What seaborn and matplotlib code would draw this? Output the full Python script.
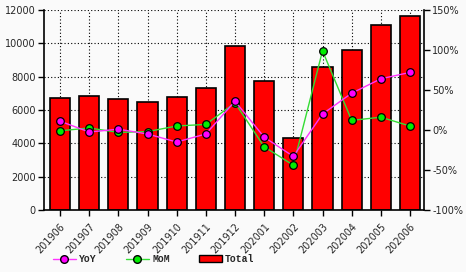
import numpy as np
import pandas as pd
import seaborn as sns
import matplotlib.pyplot as plt
from matplotlib.patches import Patch
from matplotlib.lines import Line2D

months = ['201906', '201907', '201908', '201909', '201910', '201911', '201912',
          '202001', '202002', '202003', '202004', '202005', '202006']
total = [6720, 6840, 6660, 6480, 6780, 7320, 9840, 7740, 4320, 8580, 9600, 11100, 11640]
yoy = [11, -2.5, 1, -5, -15, -5, 36, -9, -33, 20, 46, 64, 72]
mom = [-1, 2.5, -3, -2, 5, 7, 34, -21, -44, 99, 12, 16, 5]

df = pd.DataFrame({'month': months, 'total': total, 'yoy': yoy, 'mom': mom})
df['pos'] = range(len(df))

sns.set_style('white')
plt.rcParams['font.family'] = ['DejaVu Sans']

fig = plt.figure(figsize=(4.66, 2.72), dpi=100)
fig.patch.set_facecolor('#fafafa')
ax = fig.add_axes([44 / 466, 62 / 272, 380 / 466, 200 / 272])
ax.set_facecolor('#fafafa')

sns.barplot(data=df, x='pos', y='total', color='red', edgecolor='black',
            linewidth=1.2, width=0.69, saturation=1, ax=ax, zorder=2,
            native_scale=True)
ax.set_ylim(0, 12000)
ax.set_yticks(range(0, 12001, 2000))
ax.grid(True, color='black', linestyle=(0, (1, 2)), linewidth=0.8, zorder=0)
ax.set_axisbelow(True)
ax.set_xlabel('')
ax.set_ylabel('')
for s in ['left', 'bottom']:
    ax.spines[s].set_color('black')
    ax.spines[s].set_linewidth(1.2)
ax.spines['top'].set_visible(False)
ax.spines['right'].set_visible(False)

ax2 = ax.twinx()
sns.lineplot(data=df, x='pos', y='yoy', color='#ff33ff', linewidth=1, marker='o',
             markersize=5.5, markerfacecolor='#ff00ff', markeredgecolor='black',
             markeredgewidth=0.9, ax=ax2, zorder=4)
sns.lineplot(data=df, x='pos', y='mom', color='#33dd33', linewidth=1, marker='o',
             markersize=5.5, markerfacecolor='#00ee00', markeredgecolor='black',
             markeredgewidth=0.9, ax=ax2, zorder=3)
ax2.set_ylim(-100, 150)
ax2.set_yticks(range(-100, 151, 50))
ax2.set_yticklabels([f'{v}%' for v in range(-100, 151, 50)])
ax2.set_xlabel('')
ax2.set_ylabel('')
ax2.grid(False)
ax2.tick_params(axis='y', labelsize=7, length=4, width=1, color='black',
                direction='out', right=True, pad=2)
ax2.spines['right'].set_color('black')
ax2.spines['right'].set_linewidth(1.2)
for s in ['left', 'top', 'bottom']:
    ax2.spines[s].set_visible(False)

# x axis is shared, so fix ticks after all plotting
ax.set_xlim(-0.55, 12.48)
ax.set_xticks(range(len(months)))
ax.set_xticklabels(months)
ax.tick_params(axis='both', labelsize=7, length=4, width=1, color='black',
               direction='out', left=True, bottom=True, pad=2)
ax.tick_params(axis='x', labelrotation=47, pad=4)
for lab in ax.get_xticklabels():
    lab.set_horizontalalignment('right')
    lab.set_rotation_mode('anchor')

handles = [
    Line2D([0], [0], color='#ff33ff', marker='o', markersize=5.5,
           markerfacecolor='#ff00ff', markeredgecolor='black', linewidth=1),
    Line2D([0], [0], color='#33dd33', marker='o', markersize=5.5,
           markerfacecolor='#00ee00', markeredgecolor='black', linewidth=1),
    Patch(facecolor='red', edgecolor='black', linewidth=1),
]
fig.legend(handles, ['YoY', 'MoM', 'Total'], loc='center left',
           bbox_to_anchor=(44 / 466, 1 - 259 / 272), ncol=3, frameon=False,
           prop={'family': 'Liberation Mono', 'size': 7, 'weight': 'bold'},
           handlelength=2.4, columnspacing=3.0, handletextpad=0.3)

fig.savefig('out.png', dpi=100, facecolor=fig.get_facecolor())
